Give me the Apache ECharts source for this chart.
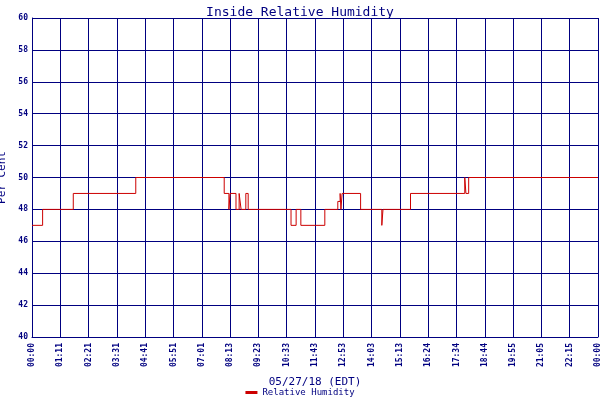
<!DOCTYPE html><html><head><meta charset="utf-8">
<script src="https://cdn.jsdelivr.net/npm/echarts@6/dist/echarts.min.js"></script>
<style>body{margin:0;background:#fff}#c{width:600px;height:400px}</style></head><body><div id="c"></div>
<script>
const tickLabels=["00:00","01:11","02:21","03:31","04:41","05:51","07:01","08:13","09:23","10:33","11:43","12:53","14:03","15:13","16:24","17:34","18:44","19:55","21:05","22:15","00:00"];
const times=[0,27,105,264,489,501,504,519,527,532,544,550,659,672,684,745,778,784,786,789,836,890,893,963,1101,1104,1111,1440];
const humidity=[47,48,49,50,49,48,49,48,49,48,49,48,47,48,47,48,48.5,49,48,49,48,47,48,49,50,49,50,50];
const navy='#000080', font='DejaVu Sans Mono';
const chart=echarts.init(document.getElementById('c'));
chart.setOption({
 animation:false,backgroundColor:'#fff',
 title:{text:'Inside Relative Humidity',left:'center',top:1,textStyle:{color:navy,fontFamily:font,fontSize:13,fontWeight:'normal'}},
 grid:{left:32,right:2,top:18,bottom:63,containLabel:false,outerBoundsMode:'none'},
 legend:{bottom:-2,left:'center',itemWidth:12,itemHeight:3,icon:'rect',textStyle:{color:navy,fontFamily:font,fontSize:9},data:['Relative Humidity']},
 xAxis:{type:'value',min:0,max:1440,interval:72,name:'05/27/18 (EDT)',nameLocation:'middle',nameGap:40,
  nameTextStyle:{color:navy,fontFamily:font,fontSize:11},
  axisLine:{lineStyle:{color:navy}},axisTick:{show:false},
  splitLine:{lineStyle:{color:navy,width:1}},
  axisLabel:{rotate:90,color:navy,fontFamily:font,fontSize:8,fontWeight:'bold',margin:6,showMaxLabel:true,
   formatter:v=>tickLabels[Math.round(v/72)]}},
 yAxis:{type:'value',min:40,max:60,interval:2,name:'Per Cent',nameLocation:'middle',nameGap:20,
  nameTextStyle:{color:navy,fontFamily:font,fontSize:11},
  axisLine:{show:true,lineStyle:{color:navy}},axisTick:{show:false},
  splitLine:{lineStyle:{color:navy,width:1}},
  axisLabel:{color:navy,fontFamily:font,fontSize:8,fontWeight:'bold',margin:4}},
 series:[{name:'Relative Humidity',type:'line',step:'end',symbol:'none',
  lineStyle:{color:'#cc0000',width:1},itemStyle:{color:'#cc0000'},
  data:times.map((t,i)=>[t,humidity[i]])}]
});
</script></body></html>
